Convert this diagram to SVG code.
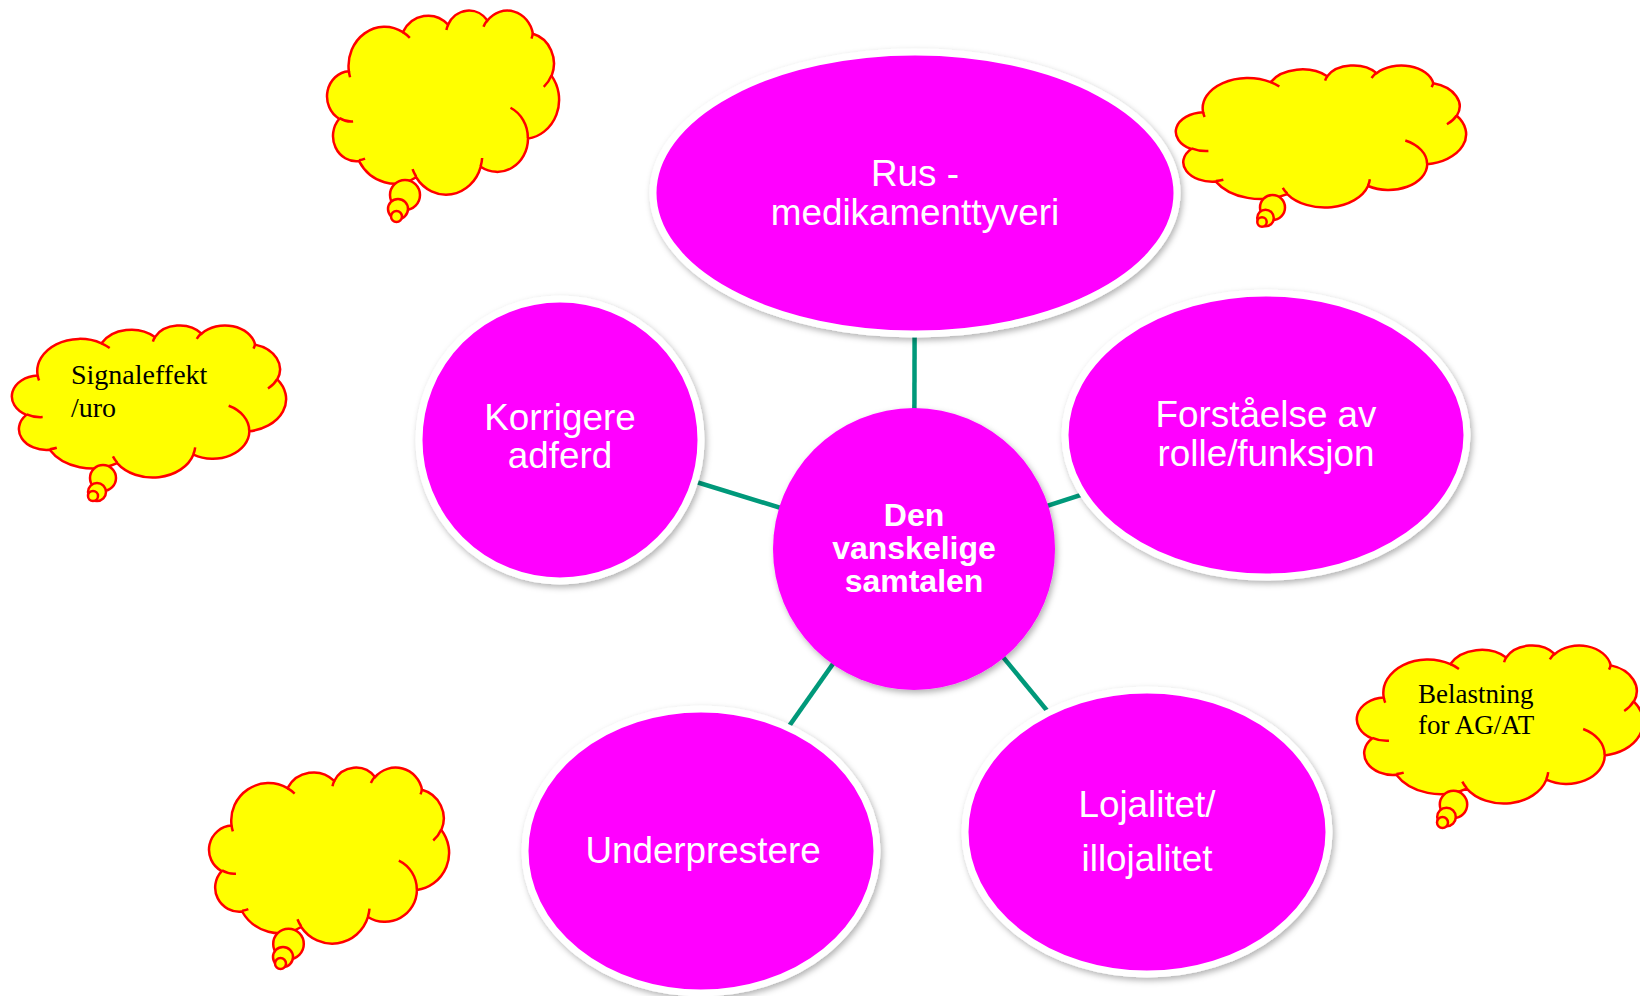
<svg xmlns="http://www.w3.org/2000/svg" xmlns:xlink="http://www.w3.org/1999/xlink" width="1640" height="996" viewBox="0 0 1640 996">
<style>
.node{fill:#FF00FF;stroke:#FFFFFF;stroke-width:7;filter:url(#sh)}
.core{fill:#FF00FF;filter:url(#sh)}
.lbl{font-family:"Liberation Sans",Arial,sans-serif;font-size:36.8px;fill:#FFFFFF;text-anchor:middle}
.lblb{font-family:"Liberation Sans",Arial,sans-serif;font-size:32px;font-weight:bold;fill:#FFFFFF;text-anchor:middle}
.cb{fill:#FFFF00;stroke:#FF0000;stroke-width:2.5;vector-effect:non-scaling-stroke}
.cr{fill:none;stroke:#FF0000;stroke-width:2.5;vector-effect:non-scaling-stroke}
.bub{fill:#FFFF00;stroke:#FF0000;stroke-width:2.5}
.ct{font-family:"Liberation Serif","Times New Roman",serif;font-size:27px;fill:#000000}
.ct28{font-family:"Liberation Serif","Times New Roman",serif;font-size:28px;fill:#000000}
.edge{stroke:#00997A;stroke-width:4.5;fill:none}
</style>
<defs>
<filter id="sh" x="-10%" y="-10%" width="125%" height="125%">
<feDropShadow dx="2" dy="3" stdDeviation="3" flood-color="#000000" flood-opacity="0.3"/>
</filter>
<g id="cloud">
<path class="cb" d="M3900 14370A6753 9190 0 0 1 14005 5202A5333 7267 0 0 1 22456 3432A4365 5945 0 0 1 29833 2481A4857 6595 0 0 1 38319 5576A5333 7273 0 0 1 41819 15460A6775 9220 0 0 1 37404 30202A5785 7867 0 0 1 28555 36812A6752 9215 0 0 1 16480 39262A7720 10543 0 0 1 5804 35468A4360 5918 0 0 1 2113 25545A4345 5945 0 0 1 3900 14370Z"/>
<path class="cr" d="M4693 26177A4345 5945 0 0 1 2160 25380M6928 34899A4360 5918 0 0 1 5819 35281M16478 39090A6752 9215 0 0 1 15811 37351M28827 34751A6752 9215 0 0 1 28560 36660M34129 22954A5785 7867 0 0 1 37381 30026M41798 15354A5333 7273 0 0 1 40350 18030M38324 5426A4857 6595 0 0 1 38051 6715M29078 3952A4857 6595 0 0 1 29820 2340M22141 4720A4365 5945 0 0 1 22500 3330M14000 5192A6753 9190 0 0 1 15301 6541M4127 15789A6753 9190 0 0 1 3900 14371"/>
</g>
</defs>
<rect width="1640" height="996" fill="#FFFFFF"/>

<g id="connectors">
<line class="edge" x1="914" y1="549" x2="915" y2="193"/>
<line class="edge" x1="914" y1="549" x2="560" y2="440"/>
<line class="edge" x1="914" y1="549" x2="1266" y2="435"/>
<line class="edge" x1="914" y1="549" x2="701" y2="851"/>
<line class="edge" x1="914" y1="549" x2="1147" y2="832"/>
</g>

<g id="node-rus">
<ellipse class="node" cx="915" cy="193" rx="262" ry="141"/>
<text class="lbl" x="915" y="186">Rus -</text>
<text class="lbl" x="915" y="225">medikamenttyveri</text>
</g>
<g id="node-korrigere">
<circle class="node" cx="560" cy="440" r="141"/>
<text class="lbl" x="560" y="430">Korrigere</text>
<text class="lbl" x="560" y="468">adferd</text>
</g>
<g id="node-forstaelse">
<ellipse class="node" cx="1266" cy="435" rx="201" ry="142"/>
<text class="lbl" x="1266" y="427">Forståelse av</text>
<text class="lbl" x="1266" y="466">rolle/funksjon</text>
</g>
<g id="node-underprestere">
<ellipse class="node" cx="701" cy="851" rx="176" ry="142"/>
<text class="lbl" x="703" y="863">Underprestere</text>
</g>
<g id="node-lojalitet">
<ellipse class="node" cx="1147" cy="832" rx="182" ry="142"/>
<text class="lbl" x="1147" y="817">Lojalitet/</text>
<text class="lbl" x="1147" y="871">illojalitet</text>
</g>
<g id="node-center">
<circle class="core" cx="914" cy="549" r="141"/>
<text class="lblb" x="914" y="526">Den</text>
<text class="lblb" x="914" y="559">vanskelige</text>
<text class="lblb" x="914" y="592">samtalen</text>
</g>

<g id="cloud-topleft">
<use xlink:href="#cloud" transform="translate(328 10) scale(0.0053472 0.0042593)"/>
<circle class="bub" cx="405" cy="195" r="15"/>
<circle class="bub" cx="398" cy="209" r="10"/>
<circle class="bub" cx="396.5" cy="216.5" r="5.5"/>
</g>
<g id="cloud-signal">
<use xlink:href="#cloud" transform="translate(13 325) scale(0.0063194 0.0035185)"/>
<circle class="bub" cx="103" cy="478" r="13"/>
<circle class="bub" cx="97" cy="492" r="9"/>
<circle class="bub" cx="93" cy="496" r="5"/>
<text class="ct28" x="71" y="384">Signaleffekt</text>
<text class="ct28" x="71" y="417">/uro</text>
</g>
<g id="cloud-topright">
<use xlink:href="#cloud" transform="translate(1177 65) scale(0.0066898 0.0032870)"/>
<circle class="bub" cx="1272.5" cy="207.5" r="12.5"/>
<circle class="bub" cx="1265.5" cy="218" r="8.3"/>
<circle class="bub" cx="1262" cy="222" r="4.7"/>
</g>
<g id="cloud-belastning">
<use xlink:href="#cloud" transform="translate(1358 645) scale(0.0065972 0.0036574)"/>
<circle class="bub" cx="1453.5" cy="804.5" r="13.7"/>
<circle class="bub" cx="1446.5" cy="817" r="9.3"/>
<circle class="bub" cx="1442.5" cy="822.5" r="5.5"/>
<text class="ct" x="1418" y="703">Belastning</text>
<text class="ct" x="1418" y="734">for AG/AT</text>
</g>
<g id="cloud-bottomleft">
<use xlink:href="#cloud" transform="translate(210 767) scale(0.0055324 0.0040741)"/>
<circle class="bub" cx="288.5" cy="944" r="15.3"/>
<circle class="bub" cx="283" cy="957" r="10"/>
<circle class="bub" cx="280.5" cy="963.5" r="5.5"/>
</g>
</svg>
